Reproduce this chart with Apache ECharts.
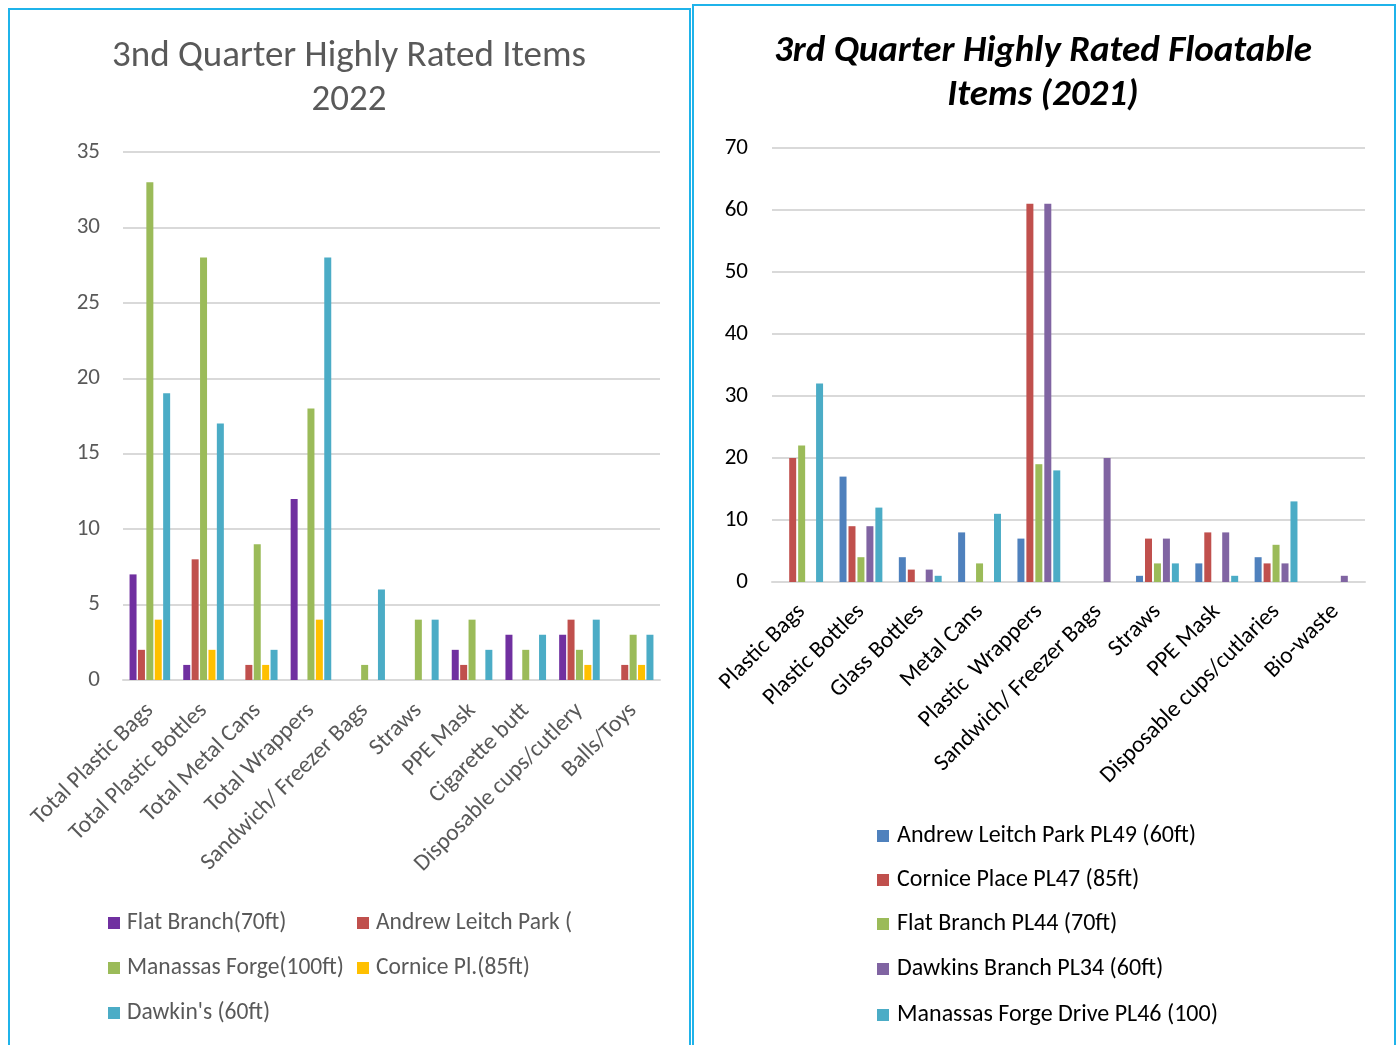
<!DOCTYPE html>
<html><head><meta charset="utf-8">
<script src="https://cdn.jsdelivr.net/npm/echarts@6/dist/echarts.min.js"></script>
<style>html,body{margin:0;padding:0;background:#fff}#c{width:1397px;height:1045px}</style>
</head><body><div id="c"></div>
<script>
// ---- Left chart (2022) ----
const cats2022 = ['Total Plastic Bags','Total Plastic Bottles','Total Metal Cans','Total Wrappers','Sandwich/ Freezer Bags','Straws','PPE Mask','Cigarette butt','Disposable cups/cutlery','Balls/Toys'];
const names2022 = ['Flat Branch(70ft)','Andrew Leitch Park (','Manassas Forge(100ft)','Cornice Pl.(85ft)',"Dawkin's (60ft)"];
const flatBranch2022   = [7, 1, 0, 12, 0, 0, 2, 3, 3, 0];
const andrewLeitch2022 = [2, 8, 1, 0, 0, 0, 1, 0, 4, 1];
const manassas2022     = [33, 28, 9, 18, 1, 4, 4, 2, 2, 3];
const cornice2022      = [4, 2, 1, 4, 0, 0, 0, 0, 1, 1];
const dawkins2022      = [19, 17, 2, 28, 6, 4, 2, 3, 4, 3];
const ticks2022 = {min: 0, max: 35, interval: 5};

// ---- Right chart (2021) ----
const cats2021 = ['Plastic Bags','Plastic Bottles','Glass Bottles','Metal Cans','Plastic  Wrappers','Sandwich/ Freezer Bags','Straws','PPE Mask','Disposable cups/cutlaries','Bio-waste'];
const names2021 = ['Andrew Leitch Park PL49 (60ft)','Cornice Place PL47 (85ft)','Flat Branch PL44 (70ft)','Dawkins Branch PL34 (60ft)','Manassas Forge Drive PL46 (100)'];
const andrewLeitch2021 = [0, 17, 4, 8, 7, 0, 1, 3, 4, 0];
const cornice2021      = [20, 9, 2, 0, 61, 0, 7, 8, 3, 0];
const flatBranch2021   = [22, 4, 0, 3, 19, 0, 3, 0, 6, 0];
const dawkins2021      = [0, 9, 2, 0, 61, 20, 7, 8, 3, 1];
const manassas2021     = [32, 12, 1, 11, 18, 0, 3, 1, 13, 0];
const ticks2021 = {min: 0, max: 70, interval: 10};

const colors2022 = ['#7030A0','#C0504D','#9BBB59','#FFC000','#4BACC6'];
const colors2021 = ['#4F81BD','#C0504D','#9BBB59','#8064A2','#4BACC6'];
const data2022 = [flatBranch2022, andrewLeitch2022, manassas2022, cornice2022, dawkins2022];
const data2021 = [andrewLeitch2021, cornice2021, flatBranch2021, dawkins2021, manassas2021];

const FONT = "Carlito, 'Open Sans', sans-serif";
const GRAY = '#595959';

const series = [];
names2022.forEach((n, i) => series.push({
  name: n, type: 'bar', xAxisIndex: 0, yAxisIndex: 0, data: data2022[i],
  barWidth: 7, barGap: '20%', itemStyle: {color: colors2022[i]}
}));
names2021.forEach((n, i) => series.push({
  name: n, type: 'bar', xAxisIndex: 1, yAxisIndex: 1, data: data2021[i],
  barWidth: 7, barGap: '28%', itemStyle: {color: colors2021[i]}
}));

const leftLegendPos = [[108, 911], [357, 911], [108, 956], [357, 956], [108, 1001]];
const rightLegendPos = [824, 868, 912, 957, 1003];
const legends = [];
names2022.forEach((n, i) => legends.push({
  data: [n], left: leftLegendPos[i][0], top: leftLegendPos[i][1], icon: 'rect',
  itemWidth: 12, itemHeight: 12, itemGap: 0, padding: 0,
  textStyle: {fontFamily: FONT, fontSize: 23.5, color: GRAY, padding: [0,0,0,2]}
}));
names2021.forEach((n, i) => legends.push({
  data: [n], left: 877, top: rightLegendPos[i], icon: 'rect',
  itemWidth: 12, itemHeight: 12, itemGap: 0, padding: 0,
  textStyle: {fontFamily: FONT, fontSize: 24, color: '#000', padding: [0,0,0,3]}
}));

const chart = echarts.init(document.getElementById('c'), null, {renderer: 'canvas'});
chart.setOption({
  animation: false,
  title: [
    {text: '3nd Quarter Highly Rated Items\n2022', left: 344, top: 30, textAlign: 'center',
     textStyle: {fontFamily: FONT, fontSize: 37, fontWeight: 'normal', color: GRAY, lineHeight: 44}},
    {text: '3rd Quarter Highly Rated Floatable\nItems (2021)', left: 1038, top: 25, textAlign: 'center',
     textStyle: {fontFamily: FONT, fontSize: 37, fontWeight: 'bold', fontStyle: 'italic', color: '#000', lineHeight: 44}}
  ],
  legend: legends,
  graphic: [
    {type: 'rect', shape: {x: 9, y: 9, width: 681, height: 1040}, style: {fill: 'none', stroke: '#1FB3EA', lineWidth: 2}},
    {type: 'rect', shape: {x: 693, y: 5, width: 702, height: 1044}, style: {fill: 'none', stroke: '#1FB3EA', lineWidth: 2}}
  ],
  grid: [
    {left: 123, top: 152, width: 537, height: 528},
    {left: 772, top: 148, width: 593, height: 434}
  ],
  xAxis: [
    {type: 'category', gridIndex: 0, data: cats2022,
     axisLine: {lineStyle: {color: '#D9D9D9', width: 2}}, axisTick: {show: false},
     axisLabel: {rotate: 45, interval: 0, margin: 27, fontFamily: FONT, fontSize: 23.5, color: GRAY}},
    {type: 'category', gridIndex: 1, data: cats2021,
     axisLine: {lineStyle: {color: '#D9D9D9', width: 2}}, axisTick: {show: false},
     axisLabel: {rotate: 45, interval: 0, margin: 26, fontFamily: FONT, fontSize: 23.5, color: '#000'}}
  ],
  yAxis: [
    {type: 'value', gridIndex: 0, min: ticks2022.min, max: ticks2022.max, interval: ticks2022.interval,
     axisLine: {show: false}, axisTick: {show: false},
     splitLine: {lineStyle: {color: '#D9D9D9', width: 2}},
     axisLabel: {margin: 23, fontFamily: FONT, fontSize: 23, color: GRAY}},
    {type: 'value', gridIndex: 1, min: ticks2021.min, max: ticks2021.max, interval: ticks2021.interval,
     axisLine: {show: false}, axisTick: {show: false},
     splitLine: {lineStyle: {color: '#D9D9D9', width: 2}},
     axisLabel: {margin: 24, fontFamily: FONT, fontSize: 23, color: '#000'}}
  ],
  series: series
});
</script></body></html>
